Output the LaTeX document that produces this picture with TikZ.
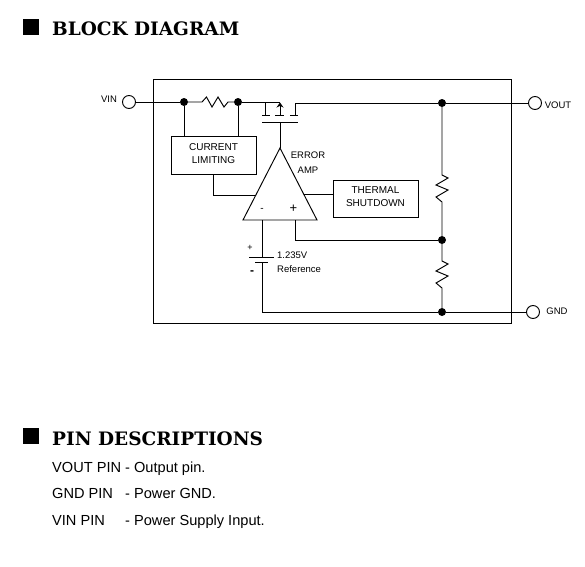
\documentclass[tikz,border=0pt]{standalone}
\usepackage{fontspec}
\usetikzlibrary{arrows.meta}
\setmainfont{Liberation Sans}
\newfontfamily\headfont{DejaVu Serif}
\tikzset{
	wire/.style={line width=0.95pt},
	dotnode/.style={circle, fill=black, inner sep=0pt, minimum size=8pt},
	pinnode/.style={circle, draw, line width=0.95pt, inner sep=0pt, minimum size=13pt},
	blockbox/.style={draw, line width=0.95pt, inner sep=0pt, align=center, font=\fontsize{10}{13}\selectfont},
	smalltxt/.style={font=\fontsize{9.5}{12}\selectfont, inner sep=0pt},
	headtxt/.style={font=\headfont\bfseries\fontsize{18.5}{20}\selectfont, right, inner sep=0pt},
	desctxt/.style={font=\fontsize{14.6}{16}\selectfont, anchor=base west, inner sep=0pt},
}
\begin{document}
\begin{tikzpicture}[x=1pt, y=-1pt, >={Stealth[length=5pt, width=7pt]}]
	\useasboundingbox (0,0) rectangle (585,566);
	% headings
	\fill (23,19) rectangle (39,35);
	\node[headtxt] (blockhead) at (52,29) {BLOCK DIAGRAM};
	\fill (23,428) rectangle (39,444);
	\node[headtxt] (pinhead) at (52,439) {PIN DESCRIPTIONS};
	\node[desctxt] (voutpin) at (52,472) {VOUT PIN};
	\node[desctxt] (voutdesc) at (125,472) {- Output pin.};
	\node[desctxt] (gndpin) at (52,498) {GND PIN};
	\node[desctxt] (gnddesc) at (125,498) {- Power GND.};
	\node[desctxt] (vinpin) at (52,525) {VIN PIN};
	\node[desctxt] (vindesc) at (125,525) {- Power Supply Input.};
	% outer frame
	\draw[wire] (153,79) rectangle (511,323);
	% pins and junctions
	\node[pinnode] (pinvin) at (129,102) {};
	\node[pinnode] (pinvout) at (535,103) {};
	\node[pinnode] (pingnd) at (533,312) {};
	\node[smalltxt] (labvin) at (109,99) {VIN};
	\node[smalltxt] (labvout) at (558,105.5) {VOUT};
	\node[smalltxt] (labgnd) at (557,311) {GND};
	\node[dotnode] (dota) at (184,102) {};
	\node[dotnode] (dotb) at (238,102) {};
	\node[dotnode] (dotc) at (442,103) {};
	\node[dotnode] (dotd) at (442,240) {};
	\node[dotnode] (dote) at (442,312) {};
	% boxes
	\node[blockbox, minimum width=85pt, minimum height=38pt] (curlim) at (213.5,155.5) {CURRENT\\LIMITING\rule[-4pt]{0pt}{1pt}};
	\node[blockbox, minimum width=85pt, minimum height=37pt] (thermal) at (375.5,198.5) {THERMAL\\SHUTDOWN\rule[-3pt]{0pt}{1pt}};
	% error amp
	\coordinate (amptop) at (280,148);
	\coordinate (ampleft) at (243,220);
	\coordinate (ampright) at (317,220);
	\draw[wire] (amptop) -- (ampleft) -- (ampright) -- cycle;
	\node[font=\fontsize{10}{12}\selectfont, inner sep=0pt] (ampminus) at (262,210) {-};
	\node[font=\fontsize{13}{12}\selectfont, inner sep=0pt] (ampplus) at (293.5,209) {+};
	\node[smalltxt] (laberr) at (308,155) {ERROR};
	\node[smalltxt] (labamp) at (308,170) {AMP};
	% pass transistor
	\coordinate (drn) at (265,102);
	\coordinate (drnb) at (265,115);
	\coordinate (srcb) at (295,115);
	\coordinate (srct) at (295,103);
	\coordinate (bodyb) at (280,115);
	\coordinate (bodyt) at (280,102.5);
	\coordinate (gate) at (280,122);
	\draw[wire] (262,115) -- (270,115) (275,115) -- (284,115) (290,115) -- (298,115);
	\draw[wire] (262,122) -- (298,122);
	\draw[wire] (drn) -- (drnb);
	\draw[wire, ->] (bodyb) -- (bodyt);
	\draw[wire] (gate) -- (amptop);
	% top rail
	\draw[wire] (pinvin) -- (dota);
	\draw[wire] (dota) -- (202,102) -- (206.5,97) -- (212,107) -- (218,97) -- (224,107) -- (228,102) -- (dotb);
	\draw[wire] (dotb) -- (280,102);
	\draw[wire] (srcb) -- (srct) -- (dotc);
	\draw[wire] (dotc) -- (pinvout);
	\draw[wire] (dota) -- (dota |- curlim.north);
	\draw[wire] (dotb) -- (dotb |- curlim.north);
	% amp connections
	\coordinate (limout) at (213.5,195);
	\coordinate (ampin) at (256,195);
	\draw[wire] (curlim.south) -- (limout) -- (ampin);
	\coordinate (ampout) at (304,194);
	\draw[wire] (ampout) -- (ampout -| thermal.west);
	% divider
	\draw[wire] (dotc) -- (442,175) -- (448,178) -- (436,185) -- (448,190) -- (436,197) -- (442,202) -- (dotd);
	\draw[wire] (dotd) -- (442,261) -- (448,264) -- (436,271) -- (448,276) -- (436,283) -- (442,288) -- (dote);
	\coordinate (posin) at (295,220);
	\coordinate (poscorner) at (295,240);
	\draw[wire] (posin) -- (poscorner) -- (dotd);
	% reference
	\coordinate (negin) at (262,220);
	\coordinate (plateup) at (262,257);
	\coordinate (platedn) at (262,262);
	\coordinate (gndcorner) at (262,312);
	\draw[wire] (negin) -- (plateup);
	\draw[wire] (249,257) -- (274,257);
	\draw[wire] (255,262) -- (268,262);
	\draw[wire] (platedn) -- (gndcorner) -- (dote);
	\draw[wire] (dote) -- (pingnd);
	\node[smalltxt, right] (labref) at (277,255) {1.235V};
	\node[smalltxt, right] (labrefb) at (277,269) {Reference};
	\node[font=\fontsize{9}{10}\selectfont, inner sep=0pt] (batplus) at (250,248) {+};
	\node[font=\bfseries\fontsize{12}{12}\selectfont, inner sep=0pt] (batminus) at (252,273) {-};
\end{tikzpicture}
\end{document}
